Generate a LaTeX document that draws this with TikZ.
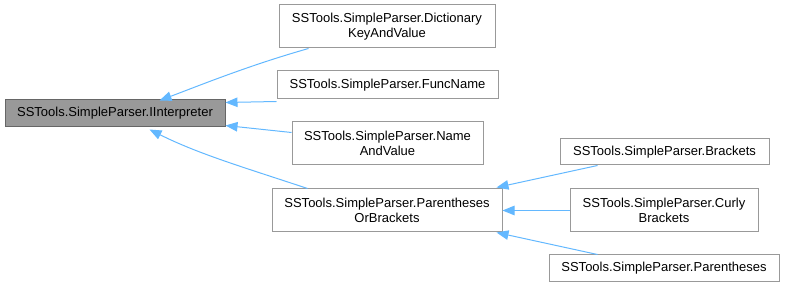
\documentclass[tikz,border=0pt]{standalone}
\usepackage{fontspec}
\setmainfont{Liberation Sans}
\usetikzlibrary{arrows.meta}
\definecolor{edgeblue}{HTML}{63B8FF}
\definecolor{boxline}{HTML}{999999}
\definecolor{rootline}{HTML}{666666}
\definecolor{rootfill}{HTML}{999999}
\begin{document}
\begin{tikzpicture}[x=1pt,y=-1pt,
  cls/.style={draw=boxline,line width=1pt,fill=white,inner sep=0pt,
    align=center,font=\fontsize{13}{15.5}\selectfont},
  rootcls/.style={cls,draw=rootline,fill=rootfill},
  inherit/.style={draw=edgeblue,line width=1pt,
    -{Triangle[length=12pt,width=9.5pt,fill=edgeblue]}}]
\useasboundingbox (0,0) rectangle (785,288);
% base interface
\node[rootcls,minimum width=220pt,minimum height=27pt] (iint) at (115,113.5)
  {SSTools.SimpleParser.IInterpreter};
% direct implementations
\node[cls,minimum width=216pt,minimum height=43pt] (dict) at (387,26.5)
  {SSTools.SimpleParser.Dictionary\\KeyAndValue};
\node[cls,minimum width=221pt,minimum height=28pt] (func) at (387.5,85)
  {SSTools.SimpleParser.FuncName};
\node[cls,minimum width=191pt,minimum height=43pt] (nav) at (387.5,143.5)
  {SSTools.SimpleParser.Name\\AndValue};
\node[cls,minimum width=230pt,minimum height=43pt] (pob) at (387,210.5)
  {SSTools.SimpleParser.Parentheses\\OrBrackets};
% bracket kinds
\node[cls,minimum width=209pt,minimum height=26pt] (br) at (664.5,152)
  {SSTools.SimpleParser.Brackets};
\node[cls,minimum width=188pt,minimum height=43pt] (curly) at (664,210.5)
  {SSTools.SimpleParser.Curly\\Brackets};
\node[cls,minimum width=230pt,minimum height=27pt] (par) at (664,268.5)
  {SSTools.SimpleParser.Parentheses};
% inheritance arrows
\draw[inherit] ([xshift=30pt]dict.south west) .. controls +(-60,17) and +(40,-15) .. ([xshift=155pt,yshift=-1pt]iint.north west);
\draw[inherit] ([yshift=-2pt]func.south west) -- ([yshift=-3pt]iint.north east);
\draw[inherit] ([yshift=-11pt]nav.north west) -- ([yshift=2pt]iint.south east);
\draw[inherit] ([xshift=36pt]pob.north west) .. controls +(-60,-20) and +(50,25) .. ([xshift=145pt,yshift=-2pt]iint.south west);
\draw[inherit] ([xshift=38pt]br.south west) -- ([xshift=-6pt,yshift=1pt]pob.north east);
\draw[inherit] (curly.west) -- (pob.east);
\draw[inherit] ([xshift=49pt]par.north west) -- ([xshift=-6pt]pob.south east);
\end{tikzpicture}
\end{document}
